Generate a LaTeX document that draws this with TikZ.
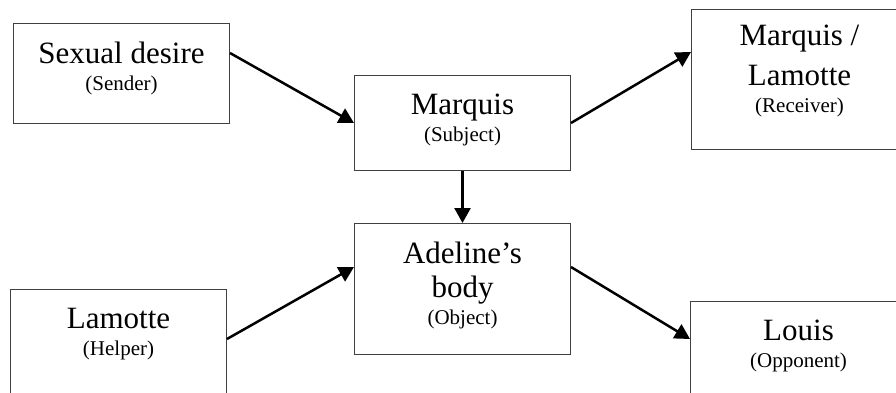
\documentclass[tikz,border=0pt]{standalone}
\usepackage{fontspec}
\setmainfont{Liberation Serif}
\usetikzlibrary{arrows.meta,positioning}

\tikzset{
  box/.style={draw=black!75, line width=1pt, inner sep=0pt, anchor=north west,
    minimum width=216pt},
  actant/.style={align=center, inner sep=0pt, anchor=north,
    font=\fontsize{31}{34}\selectfont},
  arr/.style={line width=2.5pt, -{Triangle[length=15pt,width=16pt]}},
}
\newcommand{\role}[1]{\\[-7pt]{\fontsize{21}{22}\selectfont (#1)}}

\begin{document}
\begin{tikzpicture}[x=1pt,y=-1pt]

  \useasboundingbox (0,0) rectangle (896,393);

  % boxes
  \node[box, minimum height=100pt] (sender)   at (13,23)  {};
  \node[box, minimum height=95pt]  (subject)  at (354,75) {};
  \node[box, minimum height=140pt] (receiver) at (691,9)  {};
  \node[box, minimum height=131pt] (object)   at (354,223) {};
  \node[box, minimum height=150pt] (helper)   at (10,289) {};
  \node[box, minimum height=150pt] (opponent) at (690,301) {};

  % labels
  \node[actant, below=19pt of sender.north]   (senderName)   {Sexual desire\role{Sender}};
  \node[actant, below=19pt of subject.north]  (subjectName)  {Marquis\role{Subject}};
  \node[actant, below=15.5pt of receiver.north] (receiverName) {Marquis /\\[6pt]Lamotte\role{Receiver}};
  \node[actant, below=19pt of object.north]   (objectName)   {Adeline's\\body\role{Object}};
  \node[actant, below=19pt of helper.north]   (helperName)   {Lamotte\role{Helper}};
  \node[actant, below=19pt of opponent.north] (opponentName) {Louis\role{Opponent}};

  % arrows
  \draw[arr] ([yshift=-30pt]sender.north east) -- (subject.west);
  \draw[arr] (subject.east) -- ([yshift=-43pt]receiver.north west);
  \draw[arr] (subject.south) -- (object.north);
  \draw[arr] ([yshift=-50pt]helper.north east) -- ([yshift=-44pt]object.north west);
  \draw[arr] ([yshift=-44pt]object.north east) -- ([yshift=-38pt]opponent.north west);

\end{tikzpicture}
\end{document}
